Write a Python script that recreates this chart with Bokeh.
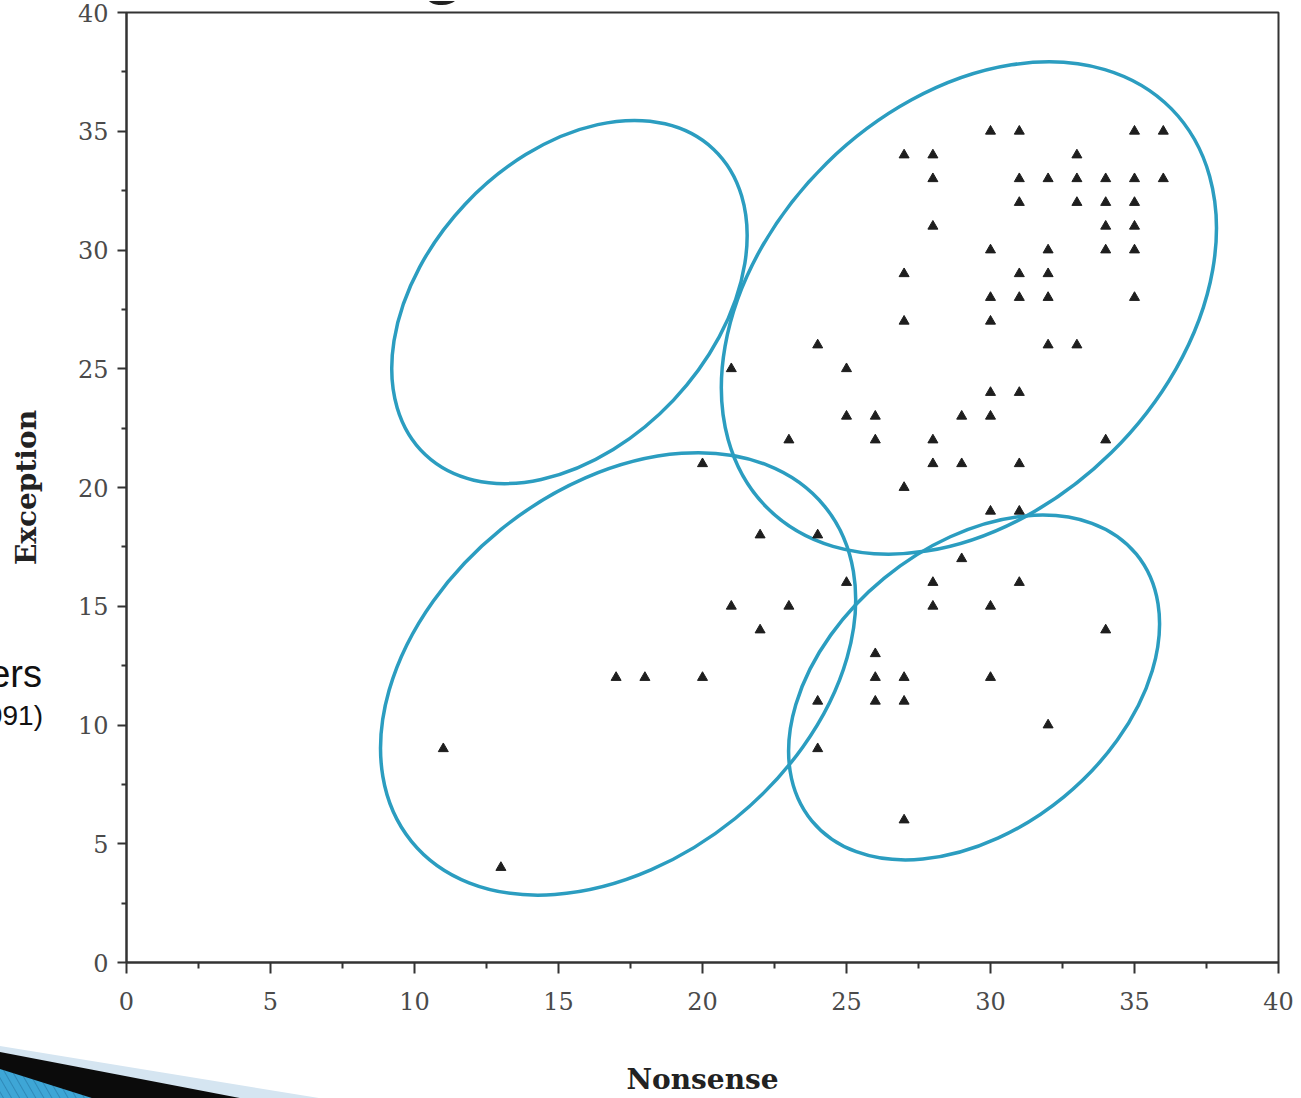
from bokeh.plotting import figure
from bokeh.models import Range1d, FixedTicker, Div
from bokeh.layouts import column
from bokeh.embed import file_html
from bokeh.resources import INLINE

# ---- data ----
nonsense = [30, 31, 35, 36,
            27, 28, 33,
            28, 31, 32, 33, 34, 35, 36,
            31, 33, 34, 35,
            28, 34, 35,
            30, 32, 34, 35,
            27, 31, 32,
            30, 31, 32, 35,
            27, 30,
            24, 32, 33,
            21, 25,
            30, 31,
            25, 26, 29, 30,
            23, 26, 28, 34,
            20, 28, 29, 31,
            27,
            30, 31,
            22, 24,
            29,
            25, 28, 31,
            21, 23, 28, 30,
            22, 34,
            26,
            17, 18, 20, 26, 27, 30,
            24, 26, 27,
            32,
            11, 24,
            27,
            13]
exception = [35, 35, 35, 35,
             34, 34, 34,
             33, 33, 33, 33, 33, 33, 33,
             32, 32, 32, 32,
             31, 31, 31,
             30, 30, 30, 30,
             29, 29, 29,
             28, 28, 28, 28,
             27, 27,
             26, 26, 26,
             25, 25,
             24, 24,
             23, 23, 23, 23,
             22, 22, 22, 22,
             21, 21, 21, 21,
             20,
             19, 19,
             18, 18,
             17,
             16, 16, 16,
             15, 15, 15, 15,
             14, 14,
             13,
             12, 12, 12, 12, 12, 12,
             11, 11, 11,
             10,
             9, 9,
             6,
             4]

# cluster ellipses (centre in data units, size in screen px, angle in degrees)
ell_x = [15.38, 29.25, 17.07, 29.43]
ell_y = [27.81, 27.56, 12.15, 11.58]
ell_w = [420, 568, 532, 420]
ell_h = [286, 406, 372, 283]
ell_angle = [46.7, 44.5, 39.0, 39.4]

major_ticks = [0, 5, 10, 15, 20, 25, 30, 35, 40]
minor_ticks = [2.5, 7.5, 12.5, 17.5, 22.5, 27.5, 32.5, 37.5]

p = figure(width=1301, height=1098,
           x_range=Range1d(0, 40), y_range=Range1d(0, 40),
           output_backend="svg", toolbar_location=None,
           min_border_left=126, min_border_right=23,
           min_border_top=12, min_border_bottom=131,
           background_fill_color="white", border_fill_color="white")

p.grid.visible = False
p.outline_line_color = "#333333"
p.outline_line_width = 2

for ax in (p.xaxis[0], p.yaxis[0]):
    ax.ticker = FixedTicker(ticks=major_ticks, minor_ticks=minor_ticks)
    ax.axis_line_color = "#333333"
    ax.axis_line_width = 2
    ax.major_tick_line_color = "#333333"
    ax.major_tick_line_width = 2
    ax.minor_tick_line_color = "#333333"
    ax.minor_tick_line_width = 2
    ax.major_tick_in = 0
    ax.minor_tick_in = 0
    ax.major_label_text_font = "DejaVu Serif"
    ax.major_label_text_font_size = "24px"
    ax.major_label_text_color = "#4a4a4a"
    ax.axis_label_text_font = "DejaVu Serif"
    ax.axis_label_text_font_style = "bold"
    ax.axis_label_text_font_size = "28px"
    ax.axis_label_text_color = "#222222"

p.xaxis.axis_label = "Nonsense"
p.yaxis.axis_label = "Exception"
p.xaxis.major_tick_out = 11
p.xaxis.minor_tick_out = 6
p.xaxis.major_label_standoff = 18
p.xaxis.axis_label_standoff = 50
p.yaxis.major_tick_out = 9
p.yaxis.minor_tick_out = 5
p.yaxis.major_label_standoff = 9
p.yaxis.axis_label_standoff = 32

# cluster ellipses
p.ellipse(x=ell_x, y=ell_y, width=ell_w, height=ell_h, angle=ell_angle,
          width_units="screen", height_units="screen", angle_units="deg",
          fill_color=None, line_color="#2b9dc0", line_width=3.5)

# data points
p.scatter(x=nonsense, y=exception, marker="triangle", size=10,
          fill_color="#1e1e1e", line_color="#1e1e1e")

# fragments of the surrounding slide (decoration and partially visible text)
overlay_html = """
<div style="position:absolute;left:0;top:0;width:470px;height:1098px;pointer-events:none;overflow:hidden;">
  <svg width="470" height="1098" style="position:absolute;left:0;top:0;">
    <defs>
      <pattern id="hatch" width="7" height="7" patternUnits="userSpaceOnUse" patternTransform="rotate(-30)">
        <rect width="7" height="7" fill="#3ea6d6"/>
        <line x1="0" y1="0" x2="0" y2="7" stroke="#2a80ae" stroke-width="1.5"/>
      </pattern>
    </defs>
    <polygon points="0,1045 325,1098 0,1098" fill="#d5e5f1"/>
    <polygon points="0,1051 245,1098 0,1098" fill="#0b0b0b"/>
    <polygon points="0,1068 95,1098 0,1098" fill="url(#hatch)"/>
  </svg>
  <span style="position:absolute;left:-80px;width:122px;top:654px;text-align:right;font-family:'Liberation Sans';font-size:38px;line-height:1;color:#111;">ers</span>
  <span style="position:absolute;left:-80px;width:123px;top:701px;text-align:right;font-family:'Liberation Sans';font-size:28px;line-height:1;color:#111;">991)</span>
  <span style="position:absolute;left:421px;top:-72px;font-family:'Liberation Sans';font-weight:bold;font-size:72px;line-height:1;color:#222;">g</span>
</div>
"""
overlay = Div(text=overlay_html, width=1, height=1,
              styles={"position": "absolute", "left": "-5px", "top": "-4px",
                      "overflow": "visible", "z-index": "10"})

layout = column(p, overlay)

open("out.html", "w").write(file_html(layout, INLINE))
